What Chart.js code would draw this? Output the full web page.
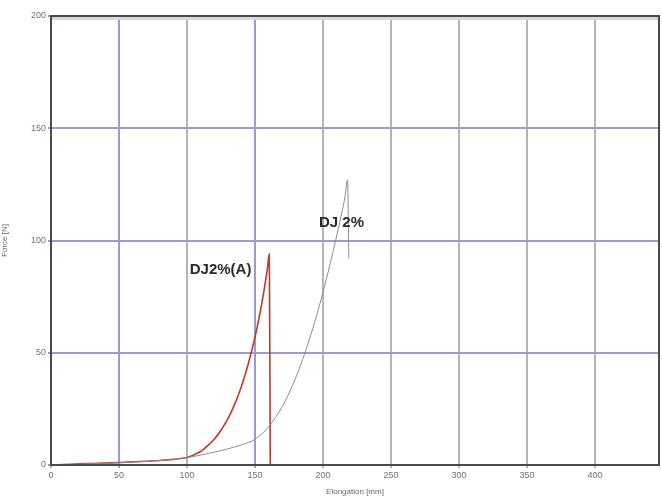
<!DOCTYPE html>
<html>
<head>
<meta charset="utf-8">
<script src="https://cdn.jsdelivr.net/npm/chart.js@4/dist/chart.umd.min.js"></script>
<style>
  html, body { margin: 0; padding: 0; background: #fff; }
  #wrap { width: 662px; height: 497px; }
</style>
</head>
<body>
<div id="wrap"><canvas id="forceChart" width="662" height="497"></canvas></div>
<script>
// Kurven Kraft / Dehnung
const redX  = [0, 10, 20, 30, 40, 50, 60, 70, 80, 90, 100, 105, 110, 115, 120, 125, 130, 135, 140, 145, 150, 155, 159, 160.5, 161.2];
const redY  = [0, 0.2, 0.5, 0.7, 0.9, 1.1, 1.4, 1.7, 2.0, 2.5, 3.3, 4.5, 6, 8.5, 11.5, 15.5, 20.5, 27, 35, 45, 57, 72, 87, 94, 0];
const grayX = [0, 10, 20, 30, 40, 50, 60, 70, 80, 90, 100, 110, 120, 130, 140, 150, 160, 170, 175, 180, 185, 190, 195, 200, 205, 210, 214, 216, 218, 219];
const grayY = [0, 0.2, 0.4, 0.6, 0.8, 1.0, 1.3, 1.6, 2.0, 2.5, 3.3, 4.4, 5.7, 7.2, 9, 11.5, 17, 26, 32, 39, 47, 56, 66, 77, 89, 102, 113, 119, 127, 92];
const xTicks = [0, 50, 100, 150, 200, 250, 300, 350, 400];
const yTicks = [0, 50, 100, 150, 200];
const curveLabels = [
    { text: 'DJ2%(A)', x: 102, y: 87 },
    { text: 'DJ 2%', x: 197, y: 108 }
];

const toPoints = (xs, ys) => xs.map((x, i) => ({ x: x, y: ys[i] }));

// Rahmen und Beschriftung der Kurven
const framePlugin = {
    id: 'frame',
    afterDatasetsDraw(chart) {
        const { ctx, chartArea: a, scales } = chart;
        ctx.save();
        ctx.fillStyle = '#d8d8d8';
        ctx.fillRect(a.left, a.top, a.right - a.left, 4);
        ctx.strokeStyle = '#4a4a4a';
        ctx.lineWidth = 2;
        ctx.strokeRect(a.left, a.top, a.right - a.left, a.bottom - a.top);
        ctx.fillStyle = '#2a2a2a';
        ctx.font = 'bold 15px "Liberation Sans", Arial, sans-serif';
        ctx.textBaseline = 'middle';
        curveLabels.forEach(l => {
            ctx.fillText(l.text, scales.x.getPixelForValue(l.x), scales.y.getPixelForValue(l.y));
        });
        ctx.restore();
    }
};

const ctx = document.getElementById('forceChart').getContext('2d');
new Chart(ctx, {
    type: 'scatter',
    data: {
        datasets: [
            { label: 'DJ 2%', data: toPoints(grayX, grayY), showLine: true, borderColor: '#8c8c8c', borderWidth: 1, pointRadius: 0, cubicInterpolationMode: 'monotone' },
            { label: 'DJ2%(A)', data: toPoints(redX, redY), showLine: true, borderColor: '#c0392b', borderWidth: 1.6, pointRadius: 0, cubicInterpolationMode: 'monotone' }
        ]
    },
    options: {
        responsive: false,
        animation: false,
        layout: { padding: { left: 0, right: 3, top: 16, bottom: 0 } },
        plugins: { legend: { display: false }, tooltip: { enabled: false } },
        scales: {
            x: {
                type: 'linear', min: 0, max: 447,
                afterBuildTicks: s => { s.ticks = xTicks.map(v => ({ value: v })); },
                afterFit: s => { s.height = 32; },
                grid: {
                    color: c => (c.tick.value === 50 || c.tick.value === 150) ? '#9b9bd2' : '#b4b4b4',
                    lineWidth: 2, drawTicks: true, tickLength: 3
                },
                border: { display: false },
                ticks: { color: '#707070', font: { size: 9 }, padding: 2, maxRotation: 0 },
                title: { display: true, text: 'Elongation [mm]', color: '#666666', font: { size: 8 }, padding: { top: 0, bottom: 0 } }
            },
            y: {
                type: 'linear', min: 0, max: 200,
                afterBuildTicks: s => { s.ticks = yTicks.map(v => ({ value: v })); },
                afterFit: s => { s.width = 51; },
                grid: { color: '#9b9bd2', lineWidth: 2, tickLength: 3 },
                border: { display: false },
                ticks: { color: '#707070', font: { size: 9 }, padding: 2 },
                title: { display: true, text: 'Force [N]', color: '#666666', font: { size: 8 }, padding: 0 }
            }
        }
    },
    plugins: [framePlugin]
});
</script>
</body>
</html>
